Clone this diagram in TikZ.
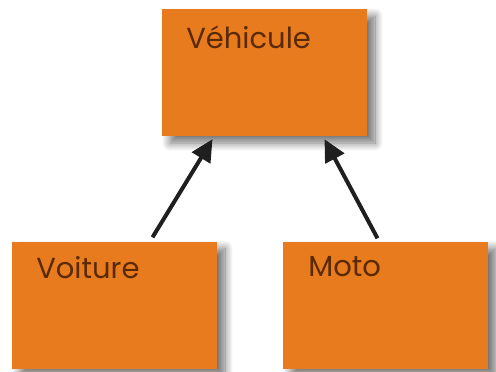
\documentclass[tikz,border=0pt]{standalone}
\usepackage{fontspec}
\setmainfont{Poppins}
\usetikzlibrary{arrows.meta,shadows.blur}
\definecolor{boxorange}{HTML}{E87B1E}
\definecolor{textbrown}{HTML}{5A2A06}
\tikzset{
  classbox/.style={rectangle, fill=boxorange, minimum width=205pt, minimum height=127pt,
    inner sep=0pt, blur shadow={shadow xshift=8pt, shadow yshift=-7pt, shadow blur steps=14, shadow opacity=55, shadow blur radius=8pt}},
  boxtext/.style={font=\fontsize{29}{32}\selectfont, text=textbrown},
  inherit/.style={line width=4pt, -{Triangle[length=22pt,width=21pt]}, color=black!88}
}
\begin{document}
\begin{tikzpicture}[x=1pt,y=-1pt]
\useasboundingbox (0,0) rectangle (496,372);
\node[classbox, label={[boxtext, anchor=north west, xshift=21pt, yshift=-13pt]north west:Véhicule}] (vehicule) at (264.5,72.5) {};
\node[classbox, label={[boxtext, anchor=north west, xshift=21pt, yshift=-12pt]north west:Voiture}] (voiture) at (114.5,305) {};
\node[classbox, label={[boxtext, anchor=north west, xshift=22pt, yshift=-12pt]north west:Moto}] (moto) at (385.5,305) {};
\draw[inherit] ([xshift=38pt,yshift=4pt]voiture.north) -- ([xshift=-52pt,yshift=-3pt]vehicule.south);
\draw[inherit] ([xshift=-8pt,yshift=3pt]moto.north) -- ([xshift=60pt,yshift=-3pt]vehicule.south);
\end{tikzpicture}
\end{document}
